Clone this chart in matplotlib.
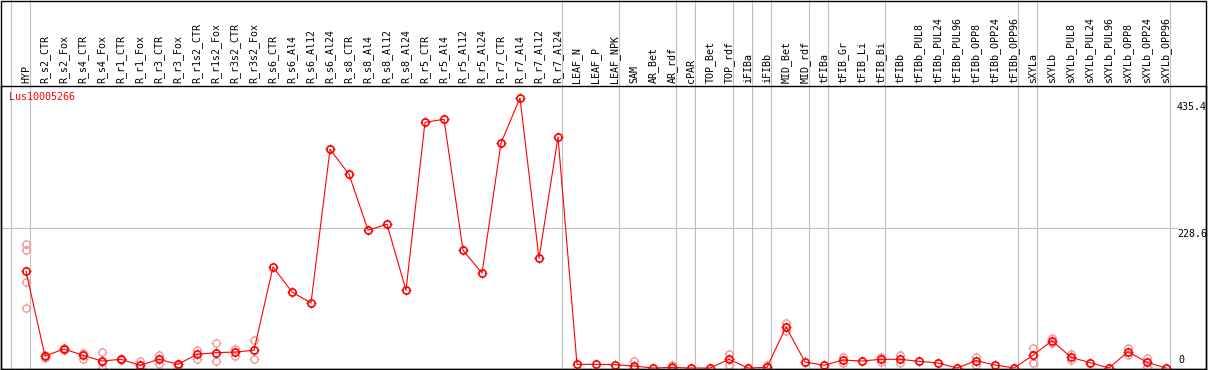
import matplotlib
matplotlib.use("Agg")
import matplotlib.pyplot as plt
from matplotlib.patches import Rectangle
from matplotlib.path import Path
import matplotlib.transforms as mtransforms

# ---------------- data ----------------
gene = "Lus10005266"

samples = [
    "HYP",
    "R_s2_CTR", "R_s2_Fox", "R_s4_CTR", "R_s4_Fox", "R_r1_CTR", "R_r1_Fox",
    "R_r3_CTR", "R_r3_Fox", "R_r1s2_CTR", "R_r1s2_Fox", "R_r3s2_CTR", "R_r3s2_Fox",
    "R_s6_CTR", "R_s6_Al4", "R_s6_Al12", "R_s6_Al24",
    "R_s8_CTR", "R_s8_Al4", "R_s8_Al12", "R_s8_Al24",
    "R_r5_CTR", "R_r5_Al4", "R_r5_Al12", "R_r5_Al24",
    "R_r7_CTR", "R_r7_Al4", "R_r7_Al12", "R_r7_Al24",
    "LEAF_N", "LEAF_P", "LEAF_NPK",
    "SAM", "AR_Bet", "AR_rdf",
    "cPAR",
    "TOP_Bet", "TOP_rdf",
    "iFIBa", "iFIBb",
    "MID_Bet", "MID_rdf",
    "tFIBa",
    "tFIB_Gr", "tFIB_Li", "tFIB_Bi",
    "tFIBb", "tFIBb_PUL8", "tFIBb_PUL24", "tFIBb_PUL96",
    "tFIBb_OPP8", "tFIBb_OPP24", "tFIBb_OPP96",
    "sXYLa",
    "sXYLb", "sXYLb_PUL8", "sXYLb_PUL24", "sXYLb_PUL96",
    "sXYLb_OPP8", "sXYLb_OPP24", "sXYLb_OPP96",
]

# sizes of the sample groups (separated by vertical grey lines)
group_sizes = [1, 28, 3, 3, 1, 2, 1, 1, 2, 1, 3, 7, 1, 7]

mean_expr = [
    157.9, 19.6, 31.0, 20.7, 11.4, 14.2, 4.4, 14.2, 6.0, 22.4, 25.0, 26.1, 28.9,
    164.9, 124.1, 106.1, 357.1, 316.3, 225.3, 234.6, 126.9,
    401.2, 406.1, 192.2, 155.1, 367.4, 440.9, 179.1, 377.2,
    6.0, 6.0, 5.4, 3.3, 0.0, 1.0, 0.0, 0.0, 14.2, 0.0, 1.0,
    67.0, 9.8, 4.4, 13.1, 11.4, 14.2,
    14.2, 10.9, 8.2, 0.0, 12.0, 4.9, 0.0,
    20.7, 44.6, 17.5, 8.7, 0.0, 26.6, 9.3, 0.0,
]

# individual replicates (sample name, value)
rep_sample = (
    ["HYP"] * 4
    + ["R_s2_CTR"] * 2 + ["R_s2_Fox"] * 2 + ["R_s4_CTR"] * 2 + ["R_s4_Fox"] * 3
    + ["R_r1_CTR"] * 2 + ["R_r1_Fox"] * 2 + ["R_r3_CTR"] * 2 + ["R_r3_Fox"] * 2
    + ["R_r1s2_CTR"] * 2 + ["R_r1s2_Fox"] * 2 + ["R_r3s2_CTR"] * 2 + ["R_r3s2_Fox"] * 2
    + ["SAM"] * 2 + ["AR_rdf"] * 2 + ["TOP_rdf"] * 2 + ["iFIBb"]
    + ["MID_Bet"] * 2 + ["tFIB_Gr"] * 2 + ["tFIB_Bi"] * 2 + ["tFIBb"] * 2
    + ["tFIBb_OPP8"] * 2 + ["sXYLa"] * 2 + ["sXYLb"] * 2 + ["sXYLb_PUL8"] * 2
    + ["sXYLb_OPP8"] * 2 + ["sXYLb_OPP24"] * 2
)
rep_value = [
    202.5, 192.2, 139.9, 97.5,
    17.0, 21.0, 29.0, 33.0, 25.0, 15.5, 25.6, 0.0, 10.0,
    13.0, 15.5, 11.4, 0.0, 20.7, 7.0, 4.0, 7.0,
    28.9, 14.7, 40.3, 11.4, 30.5, 20.0, 45.2, 14.2,
    11.4, 0.0, 4.9, 0.0, 22.9, 4.9, 4.9,
    73.0, 61.0, 18.5, 8.7, 18.5, 10.0, 21.2, 7.7,
    18.5, 5.4, 32.1, 8.7, 49.5, 40.8, 22.4, 13.0,
    32.1, 21.2, 15.8, 2.1,
]

y_labels = [435.4, 228.6, 0]

# ---------------- figure ----------------
W, H = 1209, 370
fig = plt.figure(figsize=(W / 100, H / 100), dpi=100)
fig.patch.set_facecolor("white")

box_l, box_r = 1, 1206
plot_top, plot_bot = 86, 369
ax = fig.add_axes([box_l / W, (H - plot_bot) / H,
                   (box_r - box_l) / W, (plot_bot - plot_top) / H])

px_per_cat = 19.0
first_x = 26.0
ax.set_xlim(-(first_x - box_l) / px_per_cat, (box_r - first_x) / px_per_cat)
ppu = 140.0 / 228.6
ax.set_ylim(-(plot_bot - 368) / ppu, (368 - plot_top) / ppu)

mono = "DejaVu Sans Mono"
fs = 7.2

idx = {s: i for i, s in enumerate(samples)}
xs = list(range(len(samples)))

# group separators (full height, incl. header)
ext = (plot_bot - 0) / (plot_bot - plot_top)
bounds = [-1]
acc = -1
for g in group_sizes:
    acc += g
    bounds.append(acc)
for b in bounds:
    ax.axvline(b + 0.235, 0, ext, color="#c0c0c0", lw=0.8, clip_on=False, zorder=0)

# horizontal grid at mid label
ax.axhline(y_labels[1], 0, (1177 - box_l) / (box_r - box_l), color="#c0c0c0", lw=0.8, zorder=0)

# small spikes around the circles
spike = Path([(0, 0.62), (0, 1), (0, -0.62), (0, -1),
              (0.62, 0), (1, 0), (-0.62, 0), (-1, 0)],
             [Path.MOVETO, Path.LINETO] * 4)

rep_x = [idx[s] for s in rep_sample]
ax.plot(rep_x, rep_value, linestyle="none", marker=spike, markersize=7.6,
        markeredgecolor="#f09a9a", markeredgewidth=0.8, zorder=2)
ax.plot(rep_x, rep_value, linestyle="none", marker="o",
        markersize=5.2, markerfacecolor="none", markeredgecolor="#f09a9a",
        markeredgewidth=1.0, zorder=2)

# mean line
ax.plot(xs, mean_expr, color="red", lw=0.8, zorder=3)
ax.plot(xs, mean_expr, linestyle="none", marker=spike, markersize=7.6,
        markeredgecolor="red", markeredgewidth=0.8, zorder=3)
ax.plot(xs, mean_expr, linestyle="none", marker="o", markersize=5.2,
        markerfacecolor="none", markeredgecolor="red", markeredgewidth=1.2, zorder=3)

# x labels on top
ax.set_xticks(xs)
ax.set_xticklabels(samples, fontfamily=mono, fontsize=fs, rotation=90)
ax.xaxis.tick_top()
ax.tick_params(axis="x", length=0, pad=2)
ax.set_yticks([])

for sp in ax.spines.values():
    sp.set_color("black")
    sp.set_linewidth(1.0)

# y value labels (inside, right)
trans = mtransforms.blended_transform_factory(ax.transAxes, ax.transData)
lx = (1177 - box_l) / (box_r - box_l)
for v in y_labels:
    if v == 0:
        ax.annotate(f"{v:g}", xy=(lx, v), xycoords=trans, xytext=(1, 3),
                    textcoords="offset pixels", ha="left", va="bottom",
                    fontfamily=mono, fontsize=fs)
    else:
        ax.annotate(f"{v:g}", xy=(lx, v), xycoords=trans, xytext=(0, -1),
                    textcoords="offset pixels", ha="left", va="top",
                    fontfamily=mono, fontsize=fs)

# gene name
ax.text((9 - box_l) / (box_r - box_l), (plot_bot - 92) / (plot_bot - plot_top), gene,
        transform=ax.transAxes, color="red", fontfamily=mono, fontsize=fs,
        ha="left", va="top")

# outer frame
fig.patches.append(Rectangle((box_l / W, (H - plot_bot) / H),
                             (box_r - box_l) / W, (plot_bot - 0.5) / H,
                             transform=fig.transFigure, fill=False,
                             edgecolor="black", lw=1.0, zorder=5))

fig.savefig("out.png", dpi=100)
